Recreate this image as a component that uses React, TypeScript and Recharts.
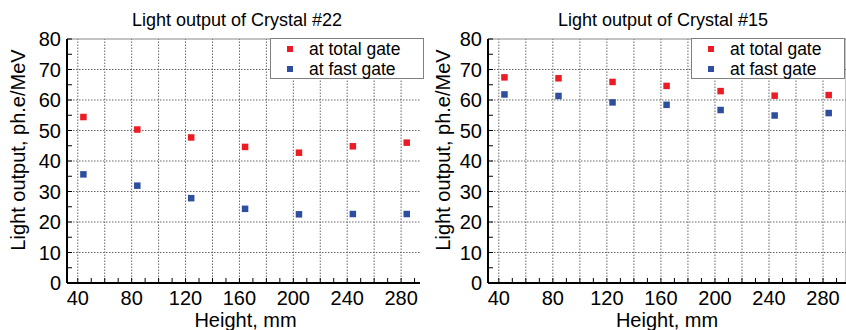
import React from "react";
import {
  Legend,
  ReferenceLine,
  Scatter,
  ScatterChart,
  XAxis,
  YAxis
} from "recharts";

const heights = [44, 84, 124, 164, 204, 244, 284];

const totalGate22 = [54.5, 50.4, 47.8, 44.7, 42.8, 44.9, 46.1];
const fastGate22 = [35.7, 32.0, 27.9, 24.4, 22.6, 22.7, 22.7];

const totalGate15 = [67.5, 67.2, 66.0, 64.7, 63.0, 61.5, 61.7];
const fastGate15 = [61.9, 61.4, 59.3, 58.5, 56.8, 55.0, 55.8];

const xTicks = [40, 50, 60, 70, 80, 90, 100, 110, 120, 130, 140, 150, 160, 170, 180, 190, 200, 210, 220, 230, 240, 250, 260, 270, 280, 290];
const xGrid = [40, 60, 80, 100, 120, 140, 160, 180, 200, 220, 240, 260, 280];
const yTicks = [0, 5, 10, 15, 20, 25, 30, 35, 40, 45, 50, 55, 60, 65, 70, 75, 80];
const yGrid = [10, 20, 30, 40, 50, 60, 70];

const RED = "#ec1c24";
const BLUE = "#2e4f9e";
const FONT = "'Liberation Sans', Arial, sans-serif";

const toPoints = (values: number[]) => values.map((v, i) => ({ x: heights[i], y: v }));

function Square(props: any) {
  const { cx, cy, fill } = props;
  if (cx == null || cy == null) return null;
  return <rect x={cx - 3} y={cy - 3} width={6.5} height={6.5} fill={fill} />;
}

function YTick(props: any) {
  const { x, y, payload } = props;
  const v = payload.value;
  return (
    <g>
      <line x1={x} x2={x + 5} y1={y} y2={y} stroke="#000" strokeWidth={1} />
      {v % 10 === 0 ? (
        <text x={x - 6} y={y + 7} textAnchor="end" fontSize={20} fontFamily={FONT} fill="#000">
          {v}
        </text>
      ) : null}
    </g>
  );
}

function XTick(props: any) {
  const { x, y, payload } = props;
  const v = payload.value;
  return (
    <g>
      <line x1={x} x2={x} y1={y} y2={y - 5} stroke="#000" strokeWidth={1} />
      {v % 40 === 0 ? (
        <text x={x} y={y + 21.5} textAnchor="middle" fontSize={20} fontFamily={FONT} fill="#000">
          {v}
        </text>
      ) : null}
    </g>
  );
}

function LegendBox() {
  const row = (color: string, label: string) => (
    <div style={{ display: "flex", alignItems: "center", height: 20 }}>
      <span style={{ width: 6, height: 6, background: color, marginLeft: 16, marginRight: 16 }} />
      <span style={{ fontSize: 17.5, fontFamily: FONT, color: "#000" }}>{label}</span>
    </div>
  );
  return (
    <div
      style={{
        background: "#fff",
        border: "1px solid #808080",
        width: 154,
        height: 41,
        boxSizing: "border-box",
        paddingTop: 0
      }}
    >
      {row(RED, "at total gate")}
      {row(BLUE, "at fast gate")}
    </div>
  );
}

type PanelProps = {
  title: string;
  total: number[];
  fast: number[];
  width: number;
  yAxisWidth: number;
  rightMargin: number;
  titleX: number;
  legendLeft: number;
  yLabelX: number;
};

function Panel({ title, total, fast, width, yAxisWidth, rightMargin, titleX, legendLeft, yLabelX }: PanelProps) {
  return (
    <div style={{ position: "relative", width, height: 330 }}>
      <div
        style={{
          position: "absolute",
          left: titleX - 150,
          width: 300,
          top: 9,
          textAlign: "center",
          fontSize: 18,
          fontFamily: FONT,
          color: "#000",
          lineHeight: "22px"
        }}
      >
        {title}
      </div>
      <ScatterChart
        width={width}
        height={330}
        margin={{ top: 39, right: rightMargin, bottom: 0, left: 0 }}
      >
        <XAxis
          type="number"
          dataKey="x"
          domain={[32, 297]}
          ticks={xTicks}
          interval={0}
          tickSize={0}
          tickMargin={0}
          tickLine={false}
          tick={<XTick />}
          height={47}
          axisLine={{ stroke: "#000", strokeWidth: 2 }}
          allowDataOverflow
          label={{
            content: (p: any) => {
              const vb = p.viewBox;
              return (
                <text
                  x={vb.x + vb.width / 2}
                  y={vb.y + 44}
                  textAnchor="middle"
                  fontSize={20}
                  fontFamily={FONT}
                  fill="#000"
                >
                  Height, mm
                </text>
              );
            }
          }}
        />
        <YAxis
          type="number"
          dataKey="y"
          domain={[0, 80]}
          ticks={yTicks}
          interval={0}
          tickSize={0}
          tickMargin={0}
          tickLine={false}
          tick={<YTick />}
          width={yAxisWidth}
          axisLine={{ stroke: "#000", strokeWidth: 2 }}
          allowDataOverflow
          label={{
            content: (p: any) => {
              const vb = p.viewBox;
              const cx = vb.x + yLabelX;
              const cy = vb.y + vb.height / 2 - 11;
              return (
                <text
                  x={cx}
                  y={cy}
                  transform={`rotate(-90 ${cx} ${cy})`}
                  textAnchor="middle"
                  dominantBaseline="central"
                  fontSize={20}
                  fontFamily={FONT}
                  fill="#000"
                >
                  Light output, ph.e/MeV
                </text>
              );
            }
          }}
        />
        {xGrid.map((v) => (
          <ReferenceLine key={`gx${v}`} x={v} stroke="#666" strokeDasharray="1.5 1.5" />
        ))}
        {yGrid.map((v) => (
          <ReferenceLine key={`gy${v}`} y={v} stroke="#666" strokeDasharray="1.5 1.5" />
        ))}
        <ReferenceLine y={80} stroke="#888" strokeWidth={1} />
        <ReferenceLine x={297} stroke="#888" strokeWidth={1} />
        <Legend
          layout="vertical"
          align="center"
          verticalAlign="middle"
          content={<LegendBox />}
          wrapperStyle={{ left: legendLeft, top: 38, width: 154, height: 41 }}
        />
        <Scatter
          name="at total gate"
          data={toPoints(total)}
          fill={RED}
          shape={<Square />}
          isAnimationActive={false}
        />
        <Scatter
          name="at fast gate"
          data={toPoints(fast)}
          fill={BLUE}
          shape={<Square />}
          isAnimationActive={false}
        />
      </ScatterChart>
    </div>
  );
}

export default function App() {
  return (
    <div style={{ position: "absolute", left: 0, top: 0, width: 846, height: 330, background: "#fff", display: "flex" }}>
      <Panel
        title="Light output of Crystal #22"
        total={totalGate22}
        fast={fastGate22}
        width={420}
        yAxisWidth={67}
        rightMargin={-4}
        titleX={237}
        legendLeft={270}
        yLabelX={18}
      />
      <Panel
        title="Light output of Crystal #15"
        total={totalGate15}
        fast={fastGate15}
        width={426}
        yAxisWidth={68}
        rightMargin={0}
        titleX={243}
        legendLeft={271}
        yLabelX={23}
      />
    </div>
  );
}
